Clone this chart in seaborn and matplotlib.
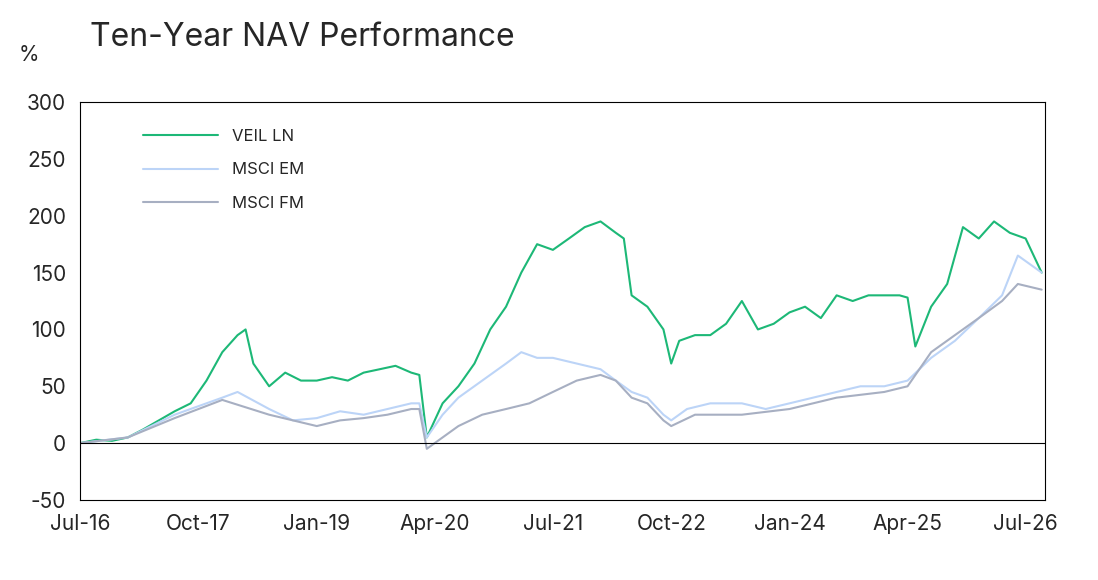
import matplotlib
matplotlib.use("Agg")
import matplotlib.pyplot as plt
import seaborn as sns
import pandas as pd

sns.set_theme(style="white")
plt.rcParams['font.family'] = ['Inter', 'DejaVu Sans']
plt.rcParams['axes.unicode_minus'] = False

veil_dates = ["2016-07","2016-09","2016-11","2017-01","2017-03","2017-05","2017-07","2017-09","2017-11","2018-01","2018-03","2018-04","2018-05","2018-07","2018-09","2018-11","2019-01","2019-03","2019-05","2019-07","2019-09","2019-11","2020-01","2020-02","2020-03","2020-05","2020-07","2020-09","2020-11","2021-01","2021-03","2021-05","2021-07","2021-09","2021-11","2022-01","2022-03","2022-04","2022-05","2022-07","2022-09","2022-10","2022-11","2023-01","2023-03","2023-05","2023-07","2023-09","2023-11","2024-01","2024-03","2024-05","2024-07","2024-09","2024-11","2025-01","2025-03","2025-04","2025-05","2025-07","2025-09","2025-11","2026-01","2026-03","2026-05","2026-07","2026-09"]
veil_vals = [0,3,2,5,12,20,28,35,55,80,95,100,70,50,62,55,55,58,55,62,65,68,62,60,5,35,50,70,100,120,150,175,170,180,190,195,185,180,130,120,100,70,90,95,95,105,125,100,105,115,120,110,130,125,130,130,130,128,85,120,140,190,180,195,185,180,150]

em_dates = ["2016-07","2017-01","2017-07","2018-01","2018-03","2018-07","2018-10","2019-01","2019-04","2019-07","2019-10","2020-01","2020-02","2020-03","2020-05","2020-07","2020-10","2021-01","2021-03","2021-05","2021-07","2021-10","2022-01","2022-03","2022-05","2022-07","2022-09","2022-10","2022-12","2023-03","2023-07","2023-10","2024-01","2024-04","2024-07","2024-10","2025-01","2025-04","2025-07","2025-10","2026-01","2026-04","2026-06","2026-09"]
em_vals = [0,5,25,40,45,30,20,22,28,25,30,35,35,5,25,40,55,70,80,75,75,70,65,55,45,40,25,20,30,35,35,30,35,40,45,50,50,55,75,90,110,130,165,150]

fm_dates = ["2016-07","2017-01","2017-07","2018-01","2018-07","2018-10","2019-01","2019-04","2019-07","2019-10","2020-01","2020-02","2020-03","2020-05","2020-07","2020-10","2021-01","2021-04","2021-07","2021-10","2022-01","2022-03","2022-05","2022-07","2022-09","2022-10","2023-01","2023-07","2024-01","2024-07","2025-01","2025-04","2025-07","2025-10","2026-01","2026-04","2026-06","2026-09"]
fm_vals = [0,5,22,38,25,20,15,20,22,25,30,30,-5,5,15,25,30,35,45,55,60,55,40,35,20,15,25,25,30,40,45,50,80,95,110,125,140,135]

tick_dates = ["2016-07","2017-10","2019-01","2020-04","2021-07","2022-10","2024-01","2025-04","2026-07"]
tick_labels = ["Jul-16","Oct-17","Jan-19","Apr-20","Jul-21","Oct-22","Jan-24","Apr-25","Jul-26"]

fig = plt.figure(figsize=(10.98, 5.80), dpi=100)
ax = fig.add_axes([0.073, 0.138, 0.879, 0.686])

for d, v, c, lab in [(veil_dates, veil_vals, "#1db877", "VEIL LN"),
                     (em_dates, em_vals, "#bcd4f7", "MSCI EM"),
                     (fm_dates, fm_vals, "#a7afc2", "MSCI FM")]:
    df = pd.DataFrame({"date": pd.to_datetime(d), "v": v})
    sns.lineplot(data=df, x="date", y="v", ax=ax, color=c, lw=1.5, label=lab)

ax.axhline(0, color="black", lw=0.8)
ax.set_xlim(pd.Timestamp("2016-07-01"), pd.Timestamp("2026-09-15"))
ax.set_ylim(-50, 300)
ax.set_yticks(range(-50, 301, 50))
ax.set_xticks(pd.to_datetime(tick_dates))
ax.set_xticklabels(tick_labels)
ax.set_xlabel(""); ax.set_ylabel("")
ax.tick_params(labelsize=15, length=0, pad=10)
for s in ax.spines.values():
    s.set_color("black"); s.set_linewidth(0.8)
ax.legend(loc="upper left", bbox_to_anchor=(0.05, 0.97), frameon=False,
          fontsize=12, handlelength=4.5, labelspacing=1.1)
fig.text(0.082, 0.935, "Ten-Year NAV Performance", fontsize=23, va="center")
fig.text(0.017, 0.905, "%", fontsize=15, va="center")
fig.savefig("out.png", dpi=100)
